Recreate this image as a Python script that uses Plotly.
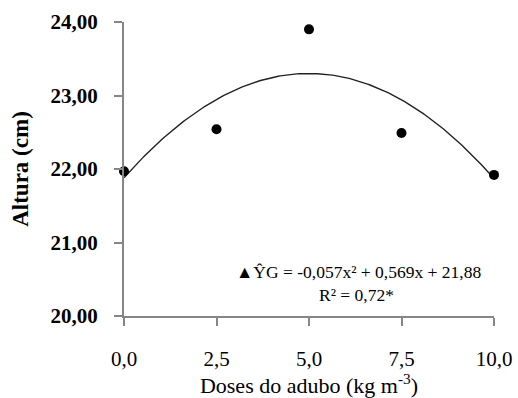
import numpy as np
import plotly.graph_objects as go

doses = [0.0, 2.5, 5.0, 7.5, 10.0]
altura = [21.97, 22.54, 23.90, 22.49, 21.92]
coef = [-0.057, 0.569, 21.88]  # a x^2 + b x + c
x_ticks = [0, 2.5, 5, 7.5, 10]
x_ticklabels = ["0,0", "2,5", "5,0", "7,5", "10,0"]
y_ticks = [20, 21, 22, 23, 24]
y_ticklabels = ["20,00", "21,00", "22,00", "23,00", "24,00"]

xf = np.linspace(0, 10, 200)
yf = coef[0] * xf**2 + coef[1] * xf + coef[2]

fig = go.Figure()
fig.add_trace(go.Scatter(x=xf, y=yf, mode="lines",
                         line=dict(color="#222222", width=1.4),
                         showlegend=False, hoverinfo="skip", cliponaxis=False))
fig.add_trace(go.Scatter(x=doses, y=altura, mode="markers",
                         marker=dict(color="black", size=10),
                         showlegend=False, cliponaxis=False))

serif = "Liberation Serif, Times New Roman, DejaVu Serif, serif"
axcol = "#868686"
fig.update_layout(
    width=518, height=398,
    margin=dict(l=124, r=24, t=22, b=82, autoexpand=False),
    paper_bgcolor="white", plot_bgcolor="white",
    font=dict(family=serif, color="black"),
    xaxis=dict(range=[0, 10], tickvals=x_ticks, ticktext=x_ticklabels,
               showline=True, linecolor=axcol, linewidth=2, automargin=False,
               ticks="outside", ticklen=8, tickwidth=2, tickcolor=axcol,
               showgrid=False, zeroline=False, ticklabelstandoff=15,
               tickfont=dict(family=serif, size=21, color="black"),
               title=dict(text="Doses do adubo (kg m<sup>-3</sup>)",
                          font=dict(family=serif, size=22, color="black"),
                          standoff=9)),
    yaxis=dict(range=[20, 24], tickvals=y_ticks, ticktext=y_ticklabels,
               showline=True, linecolor=axcol, linewidth=2, automargin=False,
               ticks="outside", ticklen=8, tickwidth=2, tickcolor=axcol,
               showgrid=False, zeroline=False, ticklabelstandoff=12,
               tickfont=dict(family=serif, size=21, color="black", weight="bold"),
               title=dict(text="<b>Altura (cm)</b>",
                          font=dict(family=serif, size=23, color="black"),
                          standoff=15)),
)
fig.add_annotation(x=(358 - 124) / 370, y=1 - (272 - 22) / 294, xref="x domain", yref="y domain",
                   text="▲ŶG = -0,057x² + 0,569x + 21,88", showarrow=False,
                   font=dict(family=serif, size=17.5, color="black"),
                   xanchor="center", yanchor="middle")
fig.add_annotation(x=(356 - 124) / 370, y=1 - (295 - 22) / 294, xref="x domain", yref="y domain",
                   text="R² = 0,72*", showarrow=False,
                   font=dict(family=serif, size=17.5, color="black"),
                   xanchor="center", yanchor="middle")

fig.write_html("out.html", config={"displayModeBar": False},
               post_script="document.body.style.margin='0';")
